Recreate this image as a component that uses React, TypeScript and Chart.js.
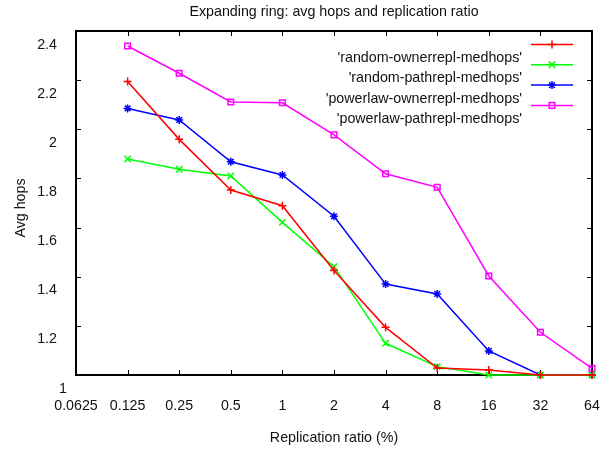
import React, { useEffect, useRef } from 'react';
import { Chart, registerables } from 'chart.js';

Chart.register(...registerables);

const titleText = 'Expanding ring: avg hops and replication ratio';
const xTitle = 'Replication ratio (%)';
const yTitle = 'Avg hops';

const xValues = [0.125, 0.25, 0.5, 1, 2, 4, 8, 16, 32, 64];
const xTickValues = [0.0625, 0.125, 0.25, 0.5, 1, 2, 4, 8, 16, 32, 64];
const xTickLabels = ['0.0625', '0.125', '0.25', '0.5', '1', '2', '4', '8', '16', '32', '64'];
const yTickValues = [1, 1.2, 1.4, 1.6, 1.8, 2, 2.2, 2.4];
const yTickLabels = ['1', '1.2', '1.4', '1.6', '1.8', '2', '2.2', '2.4'];

const seriesNames = [
  "'random-ownerrepl-medhops'",
  "'random-pathrepl-medhops'",
  "'powerlaw-ownerrepl-medhops'",
  "'powerlaw-pathrepl-medhops'",
];
const randomOwner = [2.194, 1.959, 1.753, 1.689, 1.425, 1.194, 1.028, 1.02, 1.0, 1.0];
const randomPath = [1.879, 1.837, 1.81, 1.621, 1.441, 1.129, 1.034, 1.0, 1.0, 1.0];
const powerOwner = [2.085, 2.038, 1.868, 1.814, 1.646, 1.37, 1.33, 1.098, 1.0, 1.0];
const powerPath = [2.339, 2.228, 2.111, 2.108, 1.977, 1.819, 1.764, 1.403, 1.174, 1.027];

const seriesValues = [randomOwner, randomPath, powerOwner, powerPath];
const seriesColors = ['#ff0000', '#00ff00', '#0000ff', '#ff00ff'];
const seriesPoints = ['cross', 'crossRot', 'star', 'rect'];
const seriesRadius = [4, 4.5, 4, 4];

const FONT = '15px "Liberation Sans", Arial, sans-serif';
const TEXT_COLOR = '#111';
const SQUEEZE = 0.95;

function drawText(ctx: CanvasRenderingContext2D, text: string, x: number, y: number, align: CanvasTextAlign) {
  ctx.save();
  ctx.translate(x, y);
  ctx.scale(SQUEEZE, 1);
  ctx.textAlign = align;
  ctx.textBaseline = 'middle';
  ctx.fillText(text, 0, 0);
  ctx.restore();
}

function drawMarker(ctx: CanvasRenderingContext2D, style: string, x: number, y: number, r: number) {
  ctx.beginPath();
  if (style === 'cross' || style === 'star') {
    ctx.moveTo(x - r, y); ctx.lineTo(x + r, y);
    ctx.moveTo(x, y - r); ctx.lineTo(x, y + r);
  }
  if (style === 'crossRot' || style === 'star') {
    const d = r * Math.SQRT1_2;
    ctx.moveTo(x - d, y - d); ctx.lineTo(x + d, y + d);
    ctx.moveTo(x - d, y + d); ctx.lineTo(x + d, y - d);
  }
  if (style === 'rect') {
    const s = r * Math.SQRT1_2;
    ctx.rect(x - s, y - s, 2 * s, 2 * s);
  }
  ctx.stroke();
}

const framePlugin = {
  id: 'framePlugin',
  beforeDatasetsDraw(chart: any) {
    const { ctx, chartArea, scales } = chart;
    const { left, right, top, bottom } = chartArea;
    ctx.save();
    ctx.strokeStyle = '#000';
    ctx.lineWidth = 1;
    const tl = 5;
    ctx.beginPath();
    for (const v of xTickValues) {
      const px = Math.round(scales.x.getPixelForValue(v)) + 0.5;
      ctx.moveTo(px, bottom); ctx.lineTo(px, bottom - tl);
      ctx.moveTo(px, top); ctx.lineTo(px, top + tl);
    }
    for (const v of yTickValues) {
      const py = Math.round(scales.y.getPixelForValue(v)) + 0.5;
      ctx.moveTo(left, py); ctx.lineTo(left + tl, py);
      ctx.moveTo(right, py); ctx.lineTo(right - tl, py);
    }
    ctx.stroke();
    ctx.lineWidth = 2;
    ctx.strokeRect(left, top, right - left, bottom - top);
    ctx.restore();
  },
  afterDraw(chart: any) {
    const { ctx, chartArea, scales } = chart;
    const { left, right, top, bottom } = chartArea;
    ctx.save();
    ctx.fillStyle = TEXT_COLOR;
    ctx.font = FONT;

    // tick labels
    xTickValues.forEach((v, i) => {
      drawText(ctx, xTickLabels[i], scales.x.getPixelForValue(v), bottom + 31, 'center');
    });
    yTickValues.forEach((v, i) => {
      const lx = v === 1 ? left - 9 : left - 19;
      drawText(ctx, yTickLabels[i], lx, scales.y.getPixelForValue(v) + 13.5, 'right');
    });

    // titles
    drawText(ctx, titleText, (left + right) / 2, 12, 'center');
    drawText(ctx, xTitle, (left + right) / 2, 438, 'center');
    ctx.save();
    ctx.translate(21, (top + bottom) / 2 + 5);
    ctx.rotate(-Math.PI / 2);
    drawText(ctx, yTitle, 0, 0, 'center');
    ctx.restore();

    // legend
    for (let i = 0; i < seriesNames.length; i++) {
      const rowY = top + 13.5 + i * 20.3;
      ctx.fillStyle = TEXT_COLOR;
      drawText(ctx, seriesNames[i], right - 70, rowY + 13.5, 'right');
      ctx.strokeStyle = seriesColors[i];
      ctx.lineWidth = 1.5;
      ctx.beginPath();
      ctx.moveTo(right - 61, rowY);
      ctx.lineTo(right - 19, rowY);
      ctx.stroke();
      drawMarker(ctx, seriesPoints[i], right - 40, rowY, seriesRadius[i]);
    }
    ctx.restore();
  },
};

export default function App() {
  const ref = useRef<HTMLCanvasElement>(null);
  useEffect(() => {
    document.body.style.margin = '0';
    const datasets = seriesNames.map((name, i) => ({
      label: name,
      data: xValues.map((x, j) => ({ x, y: seriesValues[i][j] })),
      borderColor: seriesColors[i],
      backgroundColor: 'rgba(0,0,0,0)',
      pointBorderColor: seriesColors[i],
      pointBackgroundColor: 'rgba(0,0,0,0)',
      pointStyle: seriesPoints[i],
      pointRadius: seriesRadius[i],
      pointBorderWidth: 1.5,
      borderWidth: 1.5,
      tension: 0,
      clip: false as any,
    }));
    const chart = new Chart(ref.current!, {
      type: 'line',
      data: { datasets },
      options: {
        responsive: false,
        animation: false,
        layout: { autoPadding: false, padding: { top: 31, right: 20, left: 0, bottom: 0 } },
        plugins: { legend: { display: false }, title: { display: false }, tooltip: { enabled: false } },
        scales: {
          x: {
            type: 'logarithmic',
            min: 0.0625,
            max: 64,
            grid: { display: false, drawTicks: false },
            border: { display: false },
            afterBuildTicks: (scale: any) => {
              scale.ticks = xTickValues.map((v) => ({ value: v }));
            },
            afterFit: (scale: any) => { scale.height = 76; },
            ticks: { display: false },
          },
          y: {
            type: 'linear',
            min: 1,
            max: 2.4,
            grid: { display: false, drawTicks: false },
            border: { display: false },
            afterBuildTicks: (scale: any) => {
              scale.ticks = yTickValues.map((v) => ({ value: v }));
            },
            afterFit: (scale: any) => { scale.width = 76; },
            ticks: { display: false },
          },
        },
      },
      plugins: [framePlugin],
    } as any);
    return () => chart.destroy();
  }, []);
  return <canvas ref={ref} width={612} height={451} style={{ display: 'block' }} />;
}
